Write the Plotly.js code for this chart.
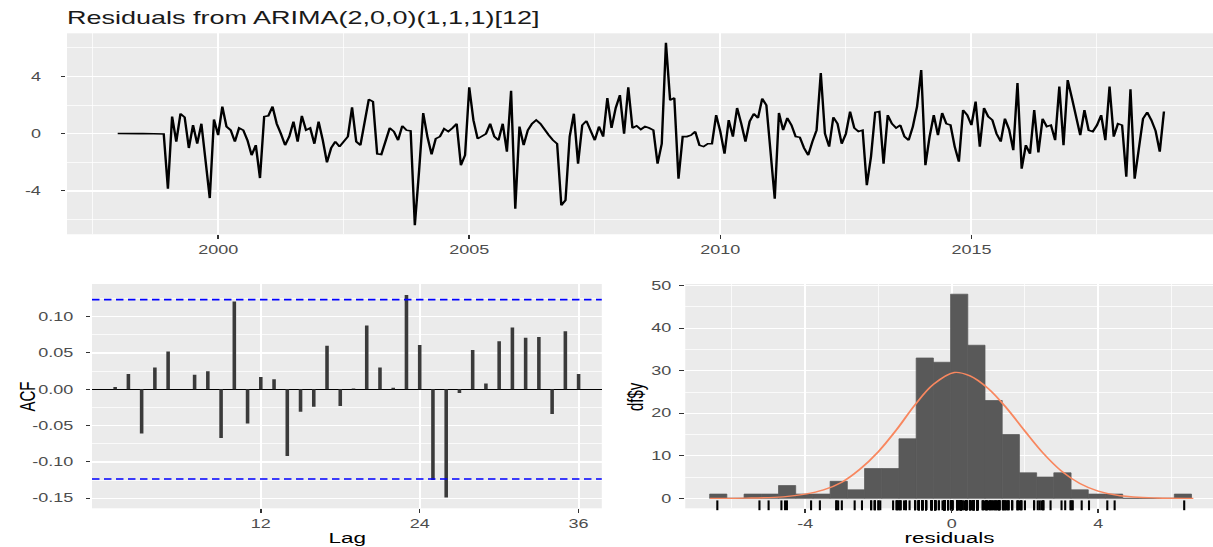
<!DOCTYPE html>
<html>
<head>
<meta charset="utf-8">
<script src="https://cdn.plot.ly/plotly-3.0.1.min.js"></script>
<style>
  html, body { margin: 0; padding: 0; background: #ffffff; overflow: hidden; width: 1213px; height: 547px; }
  #wrap { width: 809px; height: 547px; transform: scale(1.5, 1); transform-origin: 0 0; }
</style>
</head>
<body>
<div id="wrap"><div id="chart"></div></div>
<script>
// ---------------- data ----------------
const startYear = 1998;   // monthly residuals, Jan 1998 onwards
const residuals = [
  0.02, 0.01, 0.02, 0.01, 0.0, 0.01, 0.02, 0.01, 0.0, 0.01, 0.0, -0.02,
  -3.84, 1.2, -0.55, 1.4, 1.15, -1.0, 0.6, -0.7, 0.7, -2.0, -4.5, 1.0,
  -0.1, 1.9, 0.5, 0.25, -0.55, 0.4, 0.25, -0.45, -1.5, -0.8, -3.1, 1.2,
  1.25, 1.9, 0.7, 0.0, -0.8, -0.2, 0.85, -0.55, 1.25, 0.25, 0.4, -0.7,
  0.85, -0.45, -2.0, -1.0, -0.55, -0.9, -0.55, -0.2, 1.85, -0.55, -0.8, 0.7,
  2.4, 2.25, -1.4, -1.45, -0.45, 0.4, 0.15, -0.45, 0.55, 0.25, 0.2, -6.4,
  -2.65, 1.45, -0.2, -1.45, -0.35, -0.2, 0.35, 0.15, 0.4, 0.7, -2.2, -1.5,
  3.25, 0.95, -0.35, -0.2, 0.0, 0.7, -0.2, -0.45, 0.7, -1.25, 3.0, -5.25,
  0.5, -0.8, 0.25, 0.7, 0.95, 0.7, 0.25, -0.1, -0.45, -0.7, -5.0, -4.65,
  -0.2, 1.4, -2.1, 0.6, 0.9, 0.15, -0.45, 0.5, -0.2, 2.5, 0.4, 1.8,
  2.7, 0.0, 3.25, 0.4, 0.55, 0.3, 0.5, 0.4, 0.25, -2.1, -0.7, 6.35,
  2.35, 2.5, -3.15, -0.2, -0.2, -0.1, 0.15, -0.8, -0.9, -0.7, -0.7, 1.3,
  0.15, -1.4, 0.95, -0.2, 1.8, 0.7, -0.55, 0.85, 1.4, 1.1, 2.45, 2.0,
  -0.9, -4.55, 1.45, 0.25, 1.1, 0.6, -0.2, -0.25, -1.0, -1.5, -0.55, 0.25,
  4.25, 0.0, -0.9, 1.15, 0.7, -0.7, 0.0, 1.55, 0.4, 0.15, 0.25, -3.6,
  -1.6, 1.5, 1.55, -2.1, 1.3, 0.7, 0.4, 0.6, -0.2, -0.45, 0.5, 1.9,
  4.45, -2.2, -0.2, 1.3, -0.1, 1.45, 0.7, 0.6, -0.9, -1.95, 1.65, 1.3,
  0.6, 2.25, -0.9, 1.8, 1.2, 0.95, 0.0, -0.55, 1.05, 0.3, -1.15, 3.55,
  -2.45, -0.8, -1.4, 1.65, -1.3, 1.05, 0.5, 0.6, -0.45, 3.3, -0.8, 3.75,
  2.5, 1.3, -0.1, 1.65, 0.25, 0.15, 0.6, 1.3, -0.45, 3.3, -0.2, 0.7,
  0.6, -3.0, 3.1, -3.15, -0.9, 1.05, 1.5, 0.95, 0.2, -1.25, 1.55
];
const residualTimes = residuals.map((_, i) => startYear + i / 12);

const lags = [1,2,3,4,5,6,7,8,9,10,11,12,13,14,15,16,17,18,19,20,21,22,23,24,25,26,27,28,29,30,31,32,33,34,35,36];
const acfValues = [0.003, 0.021, -0.061, 0.030, 0.052, 0.000, 0.020, 0.025, -0.067, 0.121, -0.047, 0.017,
                   0.014, -0.092, -0.031, -0.024, 0.060, -0.023, 0.001, 0.088, 0.030, 0.002, 0.130, 0.061,
                   -0.125, -0.149, -0.005, 0.054, 0.008, 0.066, 0.085, 0.071, 0.072, -0.034, 0.080, 0.021];
const acfLimits = [0.1235, -0.1235];

const binCenters = [-6.375, -5.905, -5.435, -4.965, -4.495, -4.025, -3.555, -3.085, -2.615, -2.145,
                    -1.675, -1.205, -0.735, -0.265, 0.205, 0.675, 1.145, 1.615, 2.085, 2.555,
                    3.025, 3.495, 3.965, 4.435, 4.905, 5.375, 5.845, 6.315];
const binCounts  = [1, 0, 1, 1, 3, 1, 1, 4, 2, 7, 7, 14, 33, 32, 48, 36, 23, 15, 6, 5, 6, 2, 1, 1, 0, 0, 0, 1];
const binWidth = 0.47;

const normalX = [-6.6, -5.6, -4.6, -4.0, -3.5, -3.0, -2.5, -2.0, -1.5, -1.0, -0.5, 0.07, 0.5, 1.0, 1.5, 2.0, 2.5, 3.0, 3.5, 4.0, 4.6, 5.6, 6.6];
const normalY = [0.0, 0.05, 0.35, 1.0, 2.0, 3.8, 6.9, 11.0, 16.2, 22.0, 26.8, 29.6, 28.8, 25.8, 21.2, 15.8, 10.6, 6.4, 3.5, 1.7, 0.6, 0.08, 0.0];

// tick labels
const tsXTickVals = [2000, 2005, 2010, 2015];
const tsXTickText = ['2000', '2005', '2010', '2015'];
const tsYTickVals = [-4, 0, 4];
const tsYTickText = ['-4', '0', '4'];
const acfXTickVals = [12, 24, 36];
const acfXTickText = ['12', '24', '36'];
const acfYTickVals = [-0.15, -0.10, -0.05, 0.00, 0.05, 0.10];
const acfYTickText = ['-0.15', '-0.10', '-0.05', '0.00', '0.05', '0.10'];
const histXTickVals = [-4, 0, 4];
const histXTickText = ['-4', '0', '4'];
const histYTickVals = [0, 10, 20, 30, 40, 50];
const histYTickText = ['0', '10', '20', '30', '40', '50'];

// minor grid positions
const tsXMinor = [1997.5, 2002.5, 2007.5, 2012.5, 2017.5];
const tsYMinor = [-6, -2, 2, 6];
const acfYMinor = [-0.125, -0.075, -0.025, 0.025, 0.075, 0.125];
const histXMinor = [-6, -2, 2, 6];
const histYMinor = [5, 15, 25, 35, 45];

// ---------------- styling helpers ----------------
const FONT = 'Liberation Sans, Arial, Helvetica, sans-serif';
const histYRange = [-2.35, 50.4];
const rugY = histYRange[0] + 0.0135 * (histYRange[1] - histYRange[0]);

function axisBase(extra) {
  return Object.assign({
    showgrid: true, gridcolor: '#ffffff', gridwidth: 1.3,
    zeroline: false, showline: false,
    ticks: 'outside', tickcolor: '#333333', tickwidth: 1,
    tickmode: 'array',
    tickfont: {family: FONT, size: 12, color: '#4d4d4d'},
    fixedrange: true
  }, extra);
}
function minorGrid(vals) {
  return {tickmode: 'array', tickvals: vals, showgrid: true, gridcolor: '#ffffff', gridwidth: 0.6, ticks: ''};
}

const traces = [
  {
    type: 'scatter', mode: 'lines', x: residualTimes, y: residuals,
    xaxis: 'x', yaxis: 'y',
    line: {color: '#000000', width: 1.6}, hoverinfo: 'skip'
  },
  {
    type: 'bar', x: lags, y: acfValues, width: 0.27,
    xaxis: 'x2', yaxis: 'y2',
    marker: {color: '#3a3a3a', line: {width: 0}}, hoverinfo: 'skip'
  },
  {
    type: 'bar', x: binCenters, y: binCounts, width: binWidth,
    xaxis: 'x3', yaxis: 'y3',
    marker: {color: '#595959', line: {width: 0.6, color: '#595959'}}, hoverinfo: 'skip'
  },
  {
    type: 'scatter', mode: 'lines', x: normalX, y: normalY,
    xaxis: 'x3', yaxis: 'y3', line: {color: '#f8875f', width: 1.4, shape: 'spline'}, hoverinfo: 'skip'
  },
  {
    type: 'scatter', mode: 'markers', x: residuals, y: residuals.map(() => rugY),
    xaxis: 'x3', yaxis: 'y3', cliponaxis: false,
    marker: {symbol: 'line-ns', size: 7, color: '#000000', line: {width: 1.4, color: '#000000'}},
    hoverinfo: 'skip'
  }
];

const layout = {
  width: 809, height: 547,
  margin: {l: 0, r: 0, t: 0, b: 0, pad: 0},
  paper_bgcolor: '#ffffff', plot_bgcolor: '#ebebeb',
  showlegend: false,
  font: {family: FONT, color: '#4d4d4d', size: 12},
  title: {
    text: 'Residuals from ARIMA(2,0,0)(1,1,1)[12]',
    x: 0.0552, xanchor: 'left', xref: 'paper',
    y: 0.968, yanchor: 'middle', yref: 'container',
    font: {family: FONT, size: 18, color: '#1a1a1a'}
  },
  xaxis: axisBase({domain: [0.0552, 1], range: [1996.99, 2019.82], anchor: 'y',
    tickvals: tsXTickVals, ticktext: tsXTickText, ticklen: 4, minor: minorGrid(tsXMinor)}),
  yaxis: axisBase({domain: [0.5717, 0.9391], range: [-7.03, 7.02], anchor: 'x',
    tickvals: tsYTickVals, ticktext: tsYTickText, ticklen: 3, ticklabelstandoff: 11, minor: minorGrid(tsYMinor)}),
  xaxis2: axisBase({domain: [0.0758, 0.4959], range: [-0.75, 37.75], anchor: 'y2',
    tickvals: acfXTickVals, ticktext: acfXTickText, ticklen: 4}),
  yaxis2: axisBase({domain: [0.0707, 0.4808], range: [-0.1639, 0.145], anchor: 'x2',
    tickvals: acfYTickVals, ticktext: acfYTickText, ticklen: 3, ticklabelstandoff: 6,
    zeroline: true, zerolinecolor: '#000000', zerolinewidth: 1.5, minor: minorGrid(acfYMinor)}),
  xaxis3: axisBase({domain: [0.5647, 1], range: [-7.276, 7.15], anchor: 'y3',
    tickvals: histXTickVals, ticktext: histXTickText, ticklen: 4, minor: minorGrid(histXMinor)}),
  yaxis3: axisBase({domain: [0.0707, 0.4808], range: histYRange, anchor: 'x3',
    tickvals: histYTickVals, ticktext: histYTickText, ticklen: 3, ticklabelstandoff: 3, minor: minorGrid(histYMinor)}),
  shapes: acfLimits.map(v => ({
    type: 'line', xref: 'x2 domain', x0: 0, x1: 1, yref: 'y2', y0: v, y1: v,
    line: {color: '#0000ff', width: 1.6, dash: '5px,3px'}, layer: 'above'
  })),
  annotations: [
    {text: 'Lag', xref: 'paper', yref: 'paper', x: 0.2857, y: 0.018, xanchor: 'center', yanchor: 'middle',
     showarrow: false, font: {family: FONT, size: 15, color: '#000000'}},
    {text: 'residuals', xref: 'paper', yref: 'paper', x: 0.7824, y: 0.018, xanchor: 'center', yanchor: 'middle',
     showarrow: false, font: {family: FONT, size: 15, color: '#000000'}},
    {text: 'ACF', xref: 'paper', yref: 'paper', x: 0.0214, y: 0.2758, xanchor: 'center', yanchor: 'middle',
     textangle: -90, showarrow: false, font: {family: FONT, size: 15, color: '#000000'}},
    {text: 'df$y', xref: 'paper', yref: 'paper', x: 0.5227, y: 0.2758, xanchor: 'center', yanchor: 'middle',
     textangle: -90, showarrow: false, font: {family: FONT, size: 15, color: '#000000'}}
  ]
};

Plotly.newPlot('chart', traces, layout, {displayModeBar: false, staticPlot: true, responsive: false});
</script>
</body>
</html>
